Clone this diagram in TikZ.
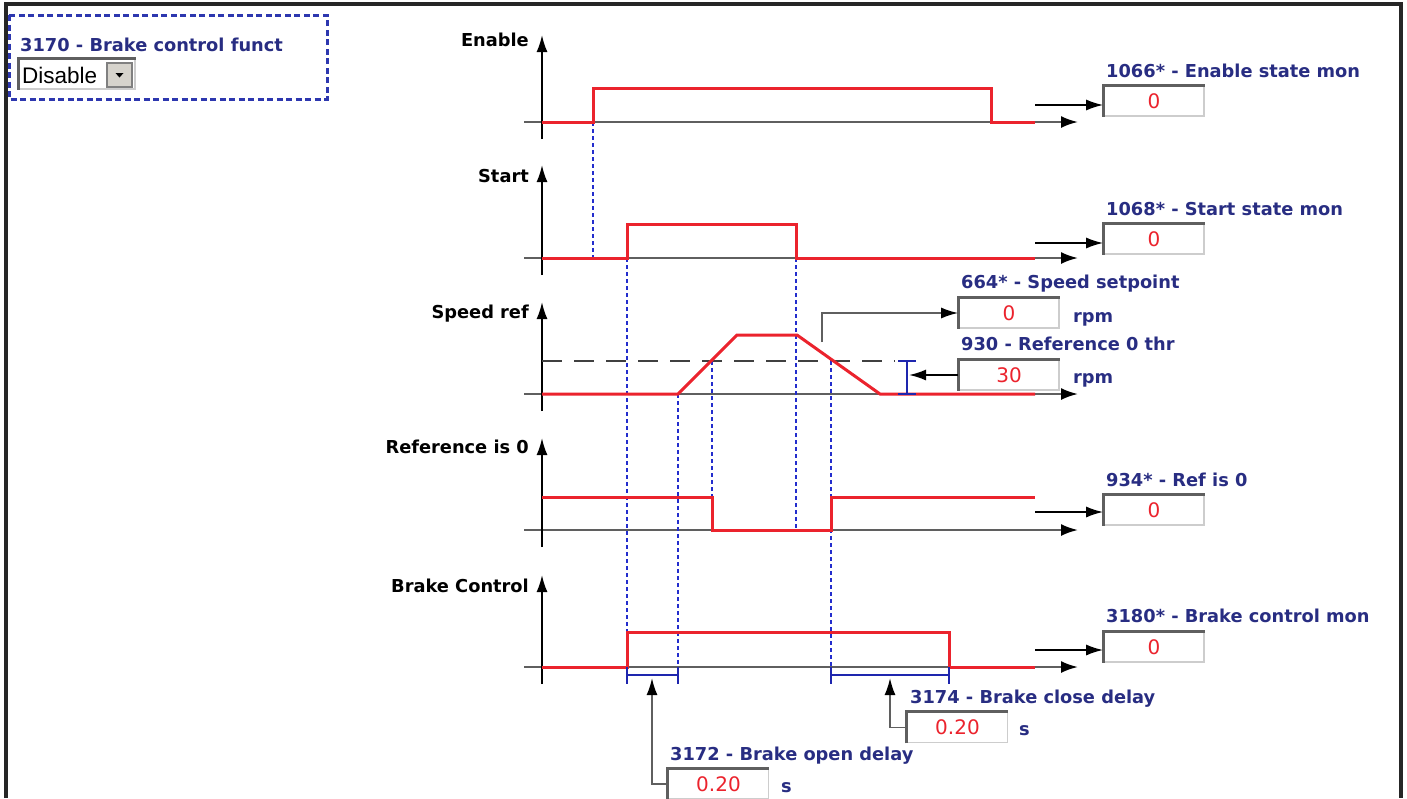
\documentclass[tikz,border=0pt]{standalone}
\usepackage{fontspec}
\setmainfont{DejaVu Sans}
\newfontfamily\winfont{Liberation Sans}
\usetikzlibrary{arrows.meta,positioning}
\definecolor{sigred}{RGB}{235,35,45}
\definecolor{parblue}{RGB}{40,45,130}
\definecolor{dotblue}{RGB}{35,45,205}
\definecolor{selblue}{RGB}{45,55,175}
\definecolor{axgray}{RGB}{95,95,95}
\definecolor{boxdark}{RGB}{95,95,95}
\definecolor{boxlight}{RGB}{205,205,205}
\definecolor{btngray}{RGB}{214,211,204}
\newcommand{\lblfont}{\bfseries\fontsize{17.8}{19}\selectfont}
\newcommand{\valfont}{\fontsize{20}{21}\selectfont}
\newcommand{\vb}[3]{%
	\node[valbox] (#1) at (#2) {#3};
	\draw[boxdark, line width=2.6pt] (#1.south west) |- (#1.north east);}

\begin{document}
\begin{tikzpicture}[x=1pt, y=-1pt,
	sig/.style={sigred, line width=3pt},
	taxis/.style={axgray, line width=2.2pt, -{Latex[black, length=17pt, width=12pt]}},
	vaxis/.style={black, line width=1.9pt, -{Latex[length=17pt, width=11pt]}},
	guide/.style={dotblue, line width=2.6pt, dash pattern=on 4pt off 3pt},
	feed/.style={black, line width=1.9pt, -{Latex[length=17pt, width=11pt]}},
	bracket/.style={dotblue!85!black, line width=2.6pt},
	chan/.style={anchor=base east, inner sep=0pt, font=\lblfont},
	par/.style={anchor=base west, inner sep=0pt, text=parblue, font=\lblfont},
	valbox/.style={draw=boxlight, line width=1.6pt, minimum width=100pt, minimum height=30pt, inner sep=0pt, text=sigred, font=\valfont}]
	\useasboundingbox (0,0) rectangle (1407,798);
	\draw[black!85, line width=3.2pt] (6,798) -- (6,4) -- (1401,4) -- (1401,798);
%
	\draw[selblue, line width=3pt, dash pattern=on 6pt off 3.5pt] (9,15) rectangle (327,99);
	\node[par] (fnlbl) at (20,51) {3170 - Brake control funct};
	\node[draw=boxlight, line width=1.6pt, minimum width=116pt, minimum height=30pt, inner sep=0pt] (dd) at (77,74) {};
	\draw[boxdark, line width=2.6pt] (dd.south west) |- (dd.north east);
	\node[anchor=base west, inner sep=0pt, font=\winfont\fontsize{22.5}{23}\selectfont] (ddtxt) at (22,83) {Disable};
	\node[fill=btngray, draw=gray, line width=1.2pt, minimum width=25pt, minimum height=24pt, inner sep=0pt] (ddbtn) at (119.5,75) {};
	\fill (ddbtn.center) ++(-4,-2) -- ++(8,0) -- ++(-4,4.5) -- cycle;
%
	\foreach \y/\top/\lb/\txt in {122/35/46/Enable, 258/165/182/Start, 394/302/318/Speed ref, 530/438/453/Reference is 0, 667/575/592/Brake Control}{
		\draw[taxis] (524,\y) -- (1078,\y);
		\draw[vaxis] (542,\y+17) -- (542,\top);
		\node[chan] (ch\y) at (529,\lb) {\txt};
	}
%
	\draw[black!75, line width=2.8pt, dash pattern=on 20pt off 12pt] (542,361) -- (895,361);
	\draw[guide] (593,122) -- (593,258);
	\draw[guide] (627,258) -- (627,683);
	\draw[guide] (796,258) -- (796,530);
	\draw[guide] (678,394) -- (678,683);
	\draw[guide] (712,361) -- (712,530);
	\draw[guide] (831,361) -- (831,683);
%
	\draw[sig] (542,122) -- (593,122) -- (593,88) -- (991,88) -- (991,122) -- (1035,122);
	\draw[sig] (542,258) -- (627,258) -- (627,224) -- (796,224) -- (796,258) -- (1035,258);
	\draw[sig] (542,394) -- (678,394) -- (737,335) -- (797,335) -- (880,394) -- (1035,394);
	\draw[sig] (542,497) -- (712,497) -- (712,530) -- (831,530) -- (831,497) -- (1035,497);
	\draw[sig] (542,667) -- (627,667) -- (627,632) -- (949,632) -- (949,667) -- (1035,667);
%
	\draw[bracket] (627,667) -- (627,684) (627,675) -- (678,675) (678,667) -- (678,684);
	\draw[bracket] (831,667) -- (831,684) (831,675) -- (949,675) (949,667) -- (949,684);
	\draw[bracket] (898,361) -- (916,361) (907,361) -- (907,394) (898,394) -- (916,394);
%
	\vb{en}{1154,101}{0}
	\vb{st}{1154,239}{0}
	\vb{sp}{1009,313}{0}
	\vb{thr}{1009,375}{30}
	\vb{rz}{1154,510}{0}
	\vb{bk}{1154,647}{0}
	\vb{od}{718.5,784}{0.20}
	\vb{cd}{957.5,727.5}{0.20}
%
	\node[par] (enlbl) at (1106,77) {1066* - Enable state mon};
	\node[par] (stlbl) at (1106,215) {1068* - Start state mon};
	\node[par] (splbl) at (961,288) {664* - Speed setpoint};
	\node[par] (thrlbl) at (961,350) {930 - Reference 0 thr};
	\node[par] (rzlbl) at (1106,486) {934* - Ref is 0};
	\node[par] (bklbl) at (1106,622) {3180* - Brake control mon};
	\node[par] (cdlbl) at (910,703) {3174 - Brake close delay};
	\node[par] (odlbl) at (670,760) {3172 - Brake open delay};
	\node[par] (sprpm) at (1073,322) {rpm};
	\node[par] (thrrpm) at (1073,383) {rpm};
	\node[par] (cds) at (1019,735) {s};
	\node[par] (ods) at (781,792) {s};
%
	\coordinate (enin) at (1035,105);
	\coordinate (stin) at (1035,243);
	\coordinate (rzin) at (1035,512);
	\coordinate (bkin) at (1035,650);
	\coordinate (spsrc) at (822,342);
	\coordinate (bar) at (909,377);
	\coordinate (odtip) at (652,678);
	\coordinate (cdtip) at (890,678);
	\draw[feed] (enin) -- (enin -| en.west);
	\draw[feed] (stin) -- (stin -| st.west);
	\draw[feed] (rzin) -- (rzin -| rz.west);
	\draw[feed] (bkin) -- (bkin -| bk.west);
	\draw[feed, axgray, -{Latex[black, length=17pt, width=11pt]}] (spsrc) |- (sp.west);
	\draw[feed] (thr.west) -- (bar |- thr.west);
	\draw[feed, axgray, -{Latex[black, length=17pt, width=11pt]}] (od.west) -| (odtip);
	\draw[feed, axgray, -{Latex[black, length=17pt, width=11pt]}] (cd.west) -| (cdtip);
\end{tikzpicture}
\end{document}
